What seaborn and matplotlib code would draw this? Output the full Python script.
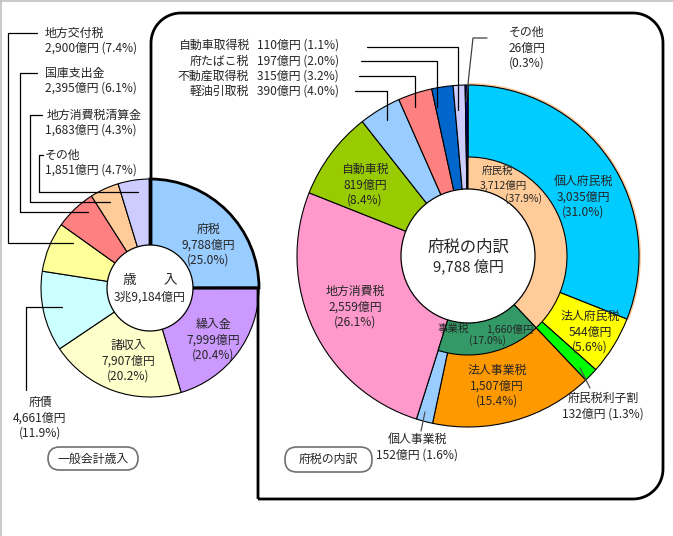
import numpy as np
import matplotlib.pyplot as plt
import seaborn as sns
from matplotlib.patches import Circle, FancyBboxPatch, Wedge
from matplotlib.lines import Line2D

sns.set_theme(style="white")
plt.rcParams["font.family"] = ["Noto Sans CJK JP", "DejaVu Sans"]

# ---- data: general account revenue (left donut) ----
rev_names = ["府税", "繰入金", "諸収入", "府債", "地方交付税", "国庫支出金", "地方消費税清算金", "その他"]
rev_values = [9788, 7999, 7907, 4661, 2900, 2395, 1683, 1851]
rev_pcts = [25.0, 20.4, 20.2, 11.9, 7.4, 6.1, 4.3, 4.7]
rev_total = "3兆9,184億円"

# ---- data: prefectural tax breakdown (right donut, outer ring) ----
tax_names = ["個人府民税", "法人府民税", "府民税利子割", "法人事業税", "個人事業税", "地方消費税",
             "自動車税", "軽油引取税", "不動産取得税", "府たばこ税", "自動車取得税", "その他"]
tax_values = [3035, 544, 132, 1507, 152, 2559, 819, 390, 315, 197, 110, 26]
tax_pcts = [31.0, 5.6, 1.3, 15.4, 1.6, 26.1, 8.4, 4.0, 3.2, 2.0, 1.1, 0.3]

# inner ring
grp_names = ["府民税", "事業税"]
grp_values = [3712, 1660]
grp_pcts = [37.9, 17.0]
tax_total = 9788

rev_colors = ["#99CCFF", "#CC99FF", "#FFFFCC", "#CCFFFF", "#FFFF99", "#FF8080", "#FFCC99", "#CCCCFF"]
tax_colors = ["#00CCFF", "#FFFF00", "#00FF00", "#FF9900", "#99CCFF", "#FF99CC",
              "#99CC00", "#99CCFF", "#FF8080", "#0066CC", "#CCCCFF", "#000080"]
grp_colors = ["#FFCC99", "#339966"]

W, H = 673, 536
fig = plt.figure(figsize=(W / 100, H / 100), dpi=100)
ax = fig.add_axes([0, 0, 1, 1])

FS = 8.6


def yen(v):
    return f"{v:,}億円"


# ---------- left donut ----------
LC, LR, LH = (150, 288), 109, 43
wl, _ = ax.pie(rev_values, colors=rev_colors, center=LC, radius=LR, startangle=-90,
               counterclock=True, frame=True,
               wedgeprops=dict(edgecolor="black", linewidth=0.8))
for w in wl:
    w.set_zorder(2)
wl[0].set_linewidth(2)
wl[0].set_zorder(3)

# ---------- right donut ----------
RC, RR, RI, RH = (468, 256), 171, 99, 67
wr, _ = ax.pie(tax_values, colors=tax_colors, center=RC, radius=RR, startangle=-90,
               counterclock=True, frame=True,
               wedgeprops=dict(edgecolor="black", linewidth=0.8))
for w in wr:
    w.set_zorder(2)
inner_vals = grp_values + [tax_total - sum(grp_values)]
wi, _ = ax.pie(inner_vals, colors=grp_colors + ["none"], center=RC, radius=RI, startangle=-90,
               counterclock=True, frame=True,
               wedgeprops=dict(edgecolor="black", linewidth=0.8))
for w in wi:
    w.set_zorder(4)
wi[2].set_visible(False)

# thin peach rim along the outer edge of 個人府民税
ax.add_patch(Wedge(RC, RR + 2, -90, -90 + 360 * tax_pcts[0] / 100, width=3,
                   facecolor="#FFCC99", edgecolor="none", zorder=1))

# ---------- callout frame ----------
R = 30
pts = [(258, 499), (258, 288), (151, 288), (151, 13 + R)]
a = np.linspace(np.pi, 1.5 * np.pi, 20)
pts += list(zip(151 + R + R * np.cos(a), 13 + R + R * np.sin(a)))
a = np.linspace(1.5 * np.pi, 2 * np.pi, 20)
pts += list(zip(663 - R + R * np.cos(a), 13 + R + R * np.sin(a)))
a = np.linspace(0, 0.5 * np.pi, 20)
pts += list(zip(663 - R + R * np.cos(a), 499 - R + R * np.sin(a)))
pts += [(258, 499)]
px, py = zip(*pts)
ax.plot(px, py, color="black", lw=2, zorder=5, solid_capstyle="butt")

# holes
ax.add_patch(Circle(LC, LH, facecolor="white", edgecolor="black", lw=0.9, zorder=6))
ax.add_patch(Circle(RC, RH, facecolor="white", edgecolor="black", lw=0.9, zorder=6))


def line(xs, ys, color="black", lw=0.9):
    ax.add_line(Line2D(xs, ys, color=color, lw=lw, zorder=7))


def txt(x, y, s, size=FS, ha="center", **kw):
    ax.text(x, y, s, fontsize=size, ha=ha, va="center", zorder=8, linespacing=1.25, **kw)


# ---------- left labels ----------
txt(150, 280, rev_names[0][:0] + "歳　　入", size=9.8)
txt(150, 297, rev_total, size=8.6)

inside = {0: (208, 245), 1: (213, 340), 2: (128, 361)}
for i, (x, y) in inside.items():
    txt(x, y, f"{rev_names[i]}\n{yen(rev_values[i])}\n({rev_pcts[i]}%)")
txt(40, 418, f"{rev_names[3]}\n{yen(rev_values[3])}\n({rev_pcts[3]}%)")
line([62, 26, 26], [307, 307, 390])

side = {4: (45, 33), 5: (45, 73), 6: (47, 115), 7: (45, 155)}
for i, (x, y) in side.items():
    txt(x, y, rev_names[i], ha="left")
    txt(45, y + 15.5, f"{yen(rev_values[i])} ({rev_pcts[i]}%)", ha="left")
line([37, 8, 8, 73], [33, 33, 243, 243])
line([37, 20, 20, 88], [73, 73, 212, 212])
line([42, 30, 30, 110], [115, 115, 202, 202])
line([43, 39, 39, 138], [155, 155, 192, 192])

box1 = FancyBboxPatch((48, 447), 90, 23, boxstyle="round,pad=0,rounding_size=11.5",
                      facecolor="white", edgecolor="#707070", lw=1.2, zorder=7)
ax.add_patch(box1)
txt(93, 459, "一般会計歳入")

# ---------- right labels ----------
txt(468, 247, "府税の内訳", size=11.8)
txt(468, 266, "9,788 億円", size=10.8)

txt(583, 197, f"{tax_names[0]}\n{yen(tax_values[0])}\n({tax_pcts[0]}%)")
txt(590, 332, f"{tax_names[1]}\n{yen(tax_values[1])}\n({tax_pcts[1]}%)")
txt(603, 406, f"{tax_names[2]}\n{yen(tax_values[2])} ({tax_pcts[2]}%)")
line([580, 590], [368, 388], color="#505050")
txt(497, 386, f"{tax_names[3]}\n{yen(tax_values[3])}\n({tax_pcts[3]}%)")
txt(417, 447, f"{tax_names[4]}\n{yen(tax_values[4])} ({tax_pcts[4]}%)")
line([425, 421], [412, 431], color="#505050")
txt(355, 307, f"{tax_names[5]}\n{yen(tax_values[5])}\n({tax_pcts[5]}%)")
txt(365, 185, f"{tax_names[6]}\n{yen(tax_values[6])}\n({tax_pcts[6]}%)")

small = {10: 45, 9: 61, 8: 76, 7: 91}
for i, y in small.items():
    txt(249, y, tax_names[i], ha="right")
    txt(257, y, f"{yen(tax_values[i])} ({tax_pcts[i]}%)", ha="left")
line([367, 458, 458], [47, 47, 110])
line([361, 437, 437], [61, 61, 107])
line([359, 415, 415], [76, 76, 107])
line([355, 387, 387], [91, 91, 120])

txt(527, 48, f"{tax_names[11]}\n{yen(tax_values[11])}\n({tax_pcts[11]}%)")
line([487, 473, 466], [38, 38, 102], color="#404040")

# inner ring labels
txt(497, 171, grp_names[0], size=7.6)
txt(503, 185, yen(grp_values[0]), size=7.6)
txt(523, 199, f"({grp_pcts[0]}%)", size=7.6)
txt(453, 329, grp_names[1], size=7.6)
txt(510, 329, yen(grp_values[1]), size=7.6)
txt(487, 341, f"({grp_pcts[1]}%)", size=7.6)

box2 = FancyBboxPatch((285, 447), 87, 25, boxstyle="round,pad=0,rounding_size=12",
                      facecolor="white", edgecolor="#707070", lw=1.2, zorder=7)
ax.add_patch(box2)
txt(328, 459, "府税の内訳")

# faint outer frame (top / left)
line([0, W], [0.5, 0.5], color="#C0C0C0", lw=1.2)
line([0.5, 0.5], [0, H], color="#C0C0C0", lw=1.2)

ax.set_xlim(0, W)
ax.set_ylim(H, 0)
ax.set_aspect("equal")
ax.axis("off")

plt.savefig("out.png", dpi=100)
plt.close()
